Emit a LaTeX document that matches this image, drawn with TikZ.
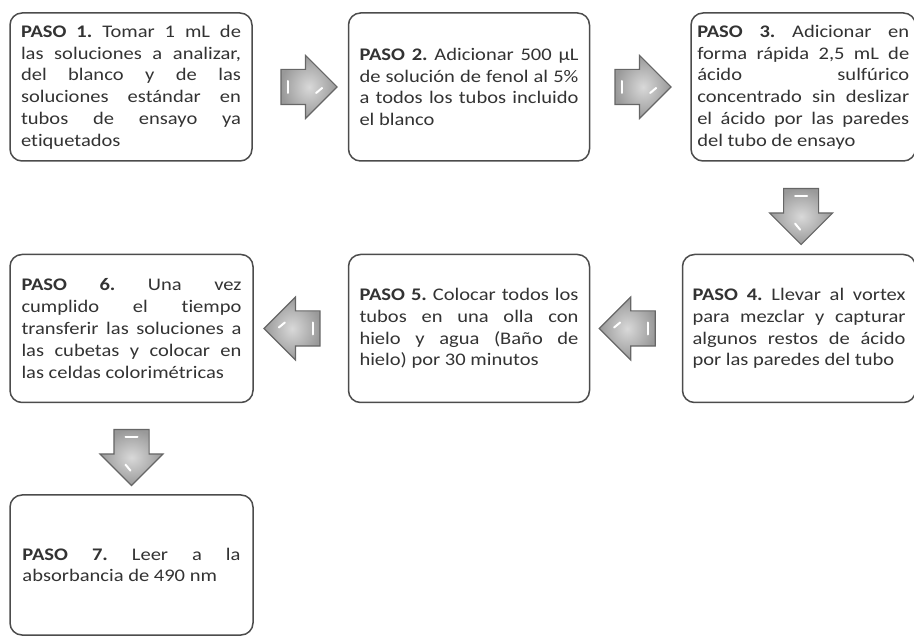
\documentclass[tikz,border=0pt]{standalone}
\usepackage{fontspec}
\setmainfont{Carlito}[FakeStretch=1.16, Ligatures=NoCommon]
\usepackage{tikz}
\usetikzlibrary{shapes.arrows, positioning, calc}
\hyphenpenalty=10000
\tolerance=10000
\frenchspacing
\tikzset{
  stepbox/.style={rectangle, rounded corners=12pt, draw=black!70, line width=1.5pt, fill=white, align=justify, minimum height=148pt, inner sep=0pt, text=black!80, font=\fontsize{17.7pt}{21.8pt}\selectfont},
  flowarrow/.style={single arrow, single arrow head extend=14pt, minimum height=56pt, inner xsep=0pt, inner ysep=17pt, draw=black!60, line width=1.1pt, inner color=black!15, outer color=black!40},
  glint/.style={white, line width=2pt, line cap=round}
}
\newcommand{\arrowglint}[2]{%
  \begin{scope}[shift={($(#1.tail)!0.5!(#1.tip)$)}, rotate=#2]
    \draw[glint] (-21,-6) -- (-21,6);
    \draw[glint] (7,-6) -- (13,-1);
  \end{scope}}

\begin{document}
\begin{tikzpicture}[x=1pt, y=1pt]
\useasboundingbox (0,0) rectangle (914,-636);

% Top row
\node[stepbox, minimum width=242pt, text width=220pt] (p1) at (131,-87) {\textbf{PASO 1.} Tomar 1 mL de\linebreak las soluciones a analizar,\linebreak del blanco y de las\linebreak soluciones estándar en\linebreak tubos de ensayo ya\linebreak etiquetados};
\node[stepbox, minimum width=241pt, text width=219pt, right=95pt of p1] (p2) {\textbf{PASO 2.} Adicionar 500 µL\linebreak de solución de fenol al 5\%\linebreak a todos los tubos incluido\linebreak el blanco};
\node[stepbox, minimum width=224.5pt, text width=212pt, right=100pt of p2] (p3) {\textbf{PASO 3.} Adicionar en\linebreak forma rápida 2,5 mL de\linebreak ácido sulfúrico\linebreak concentrado sin deslizar\linebreak el ácido por las paredes\linebreak del tubo de ensayo};

% Middle row (right to left)
\node[stepbox, minimum width=233pt, text width=213pt, below=92pt of p3.south east, anchor=north east] (p4) {\textbf{PASO 4.} Llevar al vortex\linebreak para mezclar y capturar\linebreak algunos restos de ácido\linebreak por las paredes del tubo};
\node[stepbox, minimum width=241pt, text width=219pt, left=91.5pt of p4] (p5) {\textbf{PASO 5.} Colocar todos los\linebreak tubos en una olla con\linebreak hielo y agua (Baño de\linebreak hielo) por 30 minutos};
\node[stepbox, minimum width=243pt, text width=220pt, left=94pt of p5] (p6) {\textbf{PASO 6.} Una vez\linebreak cumplido el tiempo\linebreak transferir las soluciones a\linebreak las cubetas y colocar en\linebreak las celdas colorimétricas};

% Last step
\node[stepbox, minimum width=243pt, minimum height=140pt, text width=218pt, below=91pt of p6] (p7) {\textbf{PASO 7.} Leer a la\linebreak absorbancia de 490 nm};

% Block arrows
\node[flowarrow] (a1) at ($(p1.east)!0.5!(p2.west)$) {};
\node[flowarrow, xshift=-6pt] (a2) at ($(p2.east)!0.5!(p3.west)$) {};
\node[flowarrow, rotate=-90] (a3) at ($(p3.south)!0.5!(p4.north)$) {};
\node[flowarrow, rotate=180] (a4) at ($(p4.west)!0.5!(p5.east)$) {};
\node[flowarrow, rotate=180] (a5) at ($(p5.west)!0.5!(p6.east)$) {};
\node[flowarrow, rotate=-90] (a6) at ($(p6.south)!0.5!(p7.north)$) {};

\foreach \a/\r in {a1/0, a2/0, a3/-90, a4/180, a5/180, a6/-90}
  \arrowglint{\a}{\r};
\end{tikzpicture}
\end{document}
